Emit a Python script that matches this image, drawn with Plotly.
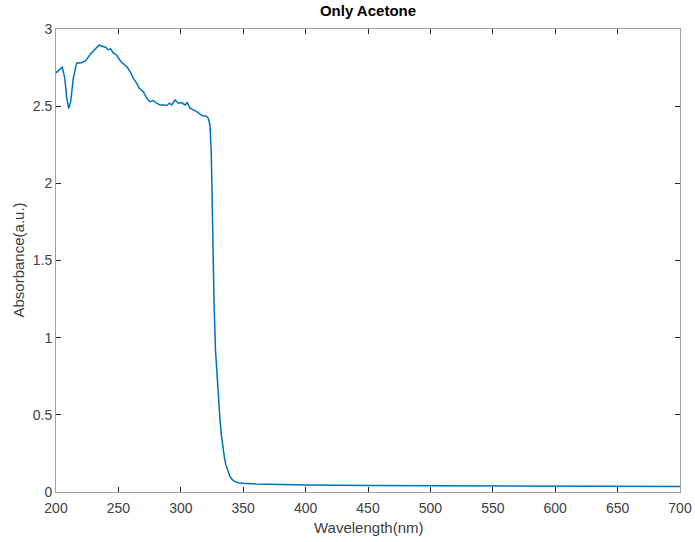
import plotly.graph_objects as go

wavelength = [200, 202.4, 205, 207, 208.6, 210.2, 211.8, 213.9, 216.6, 219.8, 223.8, 227.8, 231,
              234.5, 237.1, 239.8, 241.7, 243.8, 245.9, 248.6, 251.8, 254.5, 257.1, 259.9, 262,
              264.7, 266.7, 270, 272.7, 275.3, 278, 280.7, 283.3, 286, 288.7, 290.8, 292.7,
              295.4, 298, 300.7, 303.4, 305.2, 307.4, 310, 312.7, 315.4, 318, 320.2, 322,
              323.4, 324.4, 325, 325.8, 326.6, 327.8, 328.5, 329.3, 330.3, 331.4, 332.5, 333.6,
              335, 336.2, 337.8, 339.4, 341.3, 343.4, 346, 350, 360, 380, 400, 450, 500, 550,
              600, 650, 700]
absorbance = [2.716, 2.733, 2.752, 2.683, 2.553, 2.484, 2.532, 2.683, 2.78, 2.78, 2.795, 2.84, 2.866,
              2.895, 2.888, 2.882, 2.866, 2.871, 2.845, 2.83, 2.791, 2.769, 2.752, 2.716, 2.68,
              2.648, 2.616, 2.594, 2.551, 2.529, 2.536, 2.519, 2.508, 2.508, 2.504, 2.519, 2.508,
              2.54, 2.519, 2.523, 2.508, 2.523, 2.487, 2.476, 2.465, 2.448, 2.437, 2.437, 2.422,
              2.378, 2.2, 1.95, 1.55, 1.24, 0.92, 0.82, 0.72, 0.58, 0.467, 0.37, 0.294,
              0.22, 0.175, 0.13, 0.099, 0.08, 0.067, 0.06, 0.056, 0.052, 0.048, 0.045, 0.042, 0.040, 0.039,
              0.038, 0.037, 0.036]

x_ticks = [200, 250, 300, 350, 400, 450, 500, 550, 600, 650, 700]
y_ticks = [0, 0.5, 1, 1.5, 2, 2.5, 3]
y_tick_labels = ["0", "0.5", "1", "1.5", "2", "2.5", "3"]

title_text = "Only Acetone"
x_title = "Wavelength(nm)"
y_title = "Absorbance(a.u.)"

FONT = "Liberation Sans, Arial, Helvetica"

fig = go.Figure()
fig.add_trace(go.Scatter(x=wavelength, y=absorbance, mode="lines",
                         line=dict(color="#0072BD", width=1.5), showlegend=False))

axis_common = dict(showline=True, linecolor="#a0a0a0", linewidth=1, mirror="ticks",
                   ticks="inside", ticklen=5, tickcolor="#262626", showgrid=False, zeroline=False,
                   automargin=False,
                   tickfont=dict(family=FONT, size=14, color="#404040"))

fig.update_layout(
    width=695, height=542,
    margin=dict(l=56, r=15, t=29, b=50),
    paper_bgcolor="white", plot_bgcolor="white",
    title=dict(text="<b>" + title_text + "</b>", x=0.5, xanchor="center", xref="paper",
               y=1, yref="container", yanchor="top", pad=dict(t=5),
               font=dict(family=FONT, size=15, color="#000000")),
    xaxis=dict(range=[200, 700], tickvals=x_ticks, ticklabelstandoff=3, **axis_common),
    yaxis=dict(range=[0, 3], tickvals=y_ticks, ticktext=y_tick_labels, **axis_common),
    annotations=[
        dict(text=x_title, xref="paper", yref="paper", x=0.5, y=0, yshift=-35,
             xanchor="center", yanchor="middle", showarrow=False,
             font=dict(family=FONT, size=15, color="#404040")),
        dict(text=y_title, xref="paper", yref="paper", x=0, y=0.5, xshift=-38,
             xanchor="center", yanchor="middle", textangle=-90, showarrow=False,
             font=dict(family=FONT, size=15, color="#404040")),
    ],
)

fig.write_html("out.html")
